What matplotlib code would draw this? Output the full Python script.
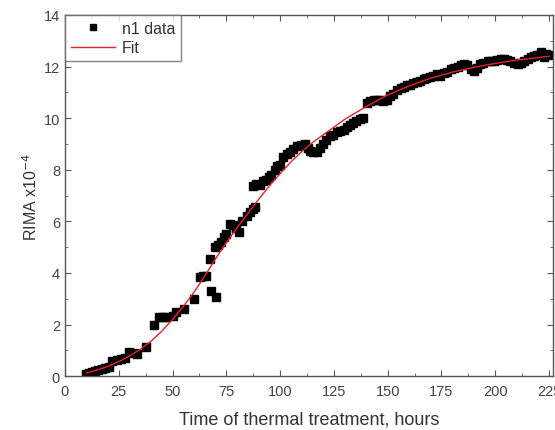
import numpy as np
import matplotlib.pyplot as plt
from matplotlib.ticker import MultipleLocator

plt.rcParams['font.family'] = ['Liberation Sans', 'DejaVu Sans']

# n1 measurements: time (hours) and RIMA (x1e-4)
t_data = [9.7, 11, 12.5, 14, 15.5, 17, 18.5, 20.5, 22, 24, 26, 28, 30, 32, 33.7,
          37.6, 41.5, 43.9, 45.5, 47, 50, 51.7, 55.5, 60, 62.6, 64, 65.7, 67.2,
          68, 70.4, 69.6, 71, 72.7, 74, 75, 76.6, 78, 79.5, 81, 82.5, 84.4, 86,
          87.4, 88.2,
          87.4, 89, 90.5, 92, 93.5, 95, 96, 97.5, 98.5, 100, 101.4, 103, 104.6,
          106, 107.8, 109.5, 111.6, 113, 113.9, 115.5, 117, 118.5, 120, 121.5,
          123, 124.5, 126.5, 128, 129.5, 131, 132.6, 134, 135.5, 137, 138.5,
          140.5, 142, 143.5, 145, 146.5, 148, 149.7, 151, 152.5, 154.5, 156,
          157.5, 159, 160.6, 162, 163.5, 165, 166.8, 168, 169.5, 171, 173,
          174.5, 176, 177.5, 179.3, 181, 182.5, 184, 185.3, 187, 188.5, 190,
          191.5, 193, 194.5, 196.5, 198, 199.5, 201, 202.5, 204, 205.5, 207,
          208.5, 210.6, 212, 213.5, 215, 216.6, 218, 219.5, 221.3, 222.7,
          223.5, 224.5]
rima_data = [0.08, 0.12, 0.15, 0.2, 0.25, 0.28, 0.32, 0.35, 0.59, 0.62, 0.66,
             0.72, 0.93, 0.88, 0.85, 1.12, 2.0, 2.29, 2.3, 2.3, 2.33, 2.48, 2.6,
             3.0, 3.84, 3.9, 3.88, 4.53, 3.3, 3.06, 5.0, 5.1, 5.2, 5.4, 5.5, 5.9,
             5.85, 5.75, 5.6, 6.0, 6.2, 6.35, 6.47, 6.55,
             7.38, 7.45, 7.4, 7.56, 7.6, 7.7, 7.8, 8.0, 8.15, 8.2, 8.5, 8.6,
             8.68, 8.8, 8.93, 8.95, 9.0, 8.85, 8.72, 8.7, 8.68, 8.85, 9.0, 9.15,
             9.3, 9.35, 9.45, 9.5, 9.55, 9.65, 9.72, 9.8, 9.88, 9.95, 10.0,
             10.6, 10.65, 10.7, 10.7, 10.72, 10.68, 10.7, 10.85, 10.95, 11.1,
             11.15, 11.2, 11.28, 11.3, 11.35, 11.4, 11.45, 11.5, 11.55, 11.6,
             11.62, 11.7, 11.65, 11.75, 11.8, 11.9, 11.95, 12.0, 12.05, 12.1,
             12.05, 11.9, 11.83, 11.95, 12.1, 12.15, 12.2, 12.2, 12.22, 12.25,
             12.28, 12.3, 12.25, 12.2, 12.15, 12.1, 12.15, 12.2, 12.3, 12.36,
             12.4, 12.45, 12.55, 12.36, 12.5, 12.45]

# fitted curve
t_fit = [10, 15, 20, 25, 30, 35, 40, 45, 50, 55, 60, 65, 70, 75, 80, 85, 90,
         95, 100, 105, 110, 115, 120, 125, 130, 140, 150, 160, 170, 180, 190,
         200, 210, 220, 225]
rima_fit = [0.12, 0.24, 0.38, 0.56, 0.78, 1.04, 1.35, 1.74, 2.2, 2.7, 3.25,
            3.88, 4.55, 5.17, 5.75, 6.3, 6.85, 7.37, 7.85, 8.3, 8.7, 9.05,
            9.35, 9.65, 9.95, 10.45, 10.9, 11.25, 11.55, 11.78, 11.97, 12.12,
            12.25, 12.35, 12.4]

fig = plt.figure(figsize=(5.55, 4.31), dpi=100)
ax = fig.add_axes([0.117, 0.125, 0.88, 0.838])

ax.plot(t_data, rima_data, 's', color='black', markersize=5.5, label='n1 data')
ax.plot(t_fit, rima_fit, '-', color='#e8202a', linewidth=1.0, label='Fit')

ax.set_xlim(0, 227)
ax.set_ylim(0, 14)
ax.xaxis.set_major_locator(MultipleLocator(25))
ax.xaxis.set_minor_locator(MultipleLocator(12.5))
ax.yaxis.set_major_locator(MultipleLocator(2))
ax.yaxis.set_minor_locator(MultipleLocator(1))
ax.tick_params(which='both', direction='in', top=True, right=True,
               colors='#555555', labelcolor='#444444', labelsize=10.5)
ax.tick_params(which='major', length=4)
ax.tick_params(which='minor', length=2)
ax.tick_params(axis='x', pad=6)
for sp in ax.spines.values():
    sp.set_color('#555555')
    sp.set_linewidth(1.0)

ax.set_xlabel('Time of thermal treatment, hours', fontsize=13,
              color='#333333', labelpad=9)
ax.set_ylabel(r'RIMA x10$^{-4}$', fontsize=11.5, color='#333333', labelpad=3)

leg = ax.legend(loc='upper left', borderaxespad=0, fancybox=False,
                edgecolor='#666666', fontsize=11.5, handlelength=2.8,
                handletextpad=0.4, markerscale=0.8, borderpad=0.35,
                labelspacing=0.3)
leg.get_frame().set_linewidth(1.0)
for txt in leg.get_texts():
    txt.set_color('#333333')

fig.savefig('out.png', dpi=100)
